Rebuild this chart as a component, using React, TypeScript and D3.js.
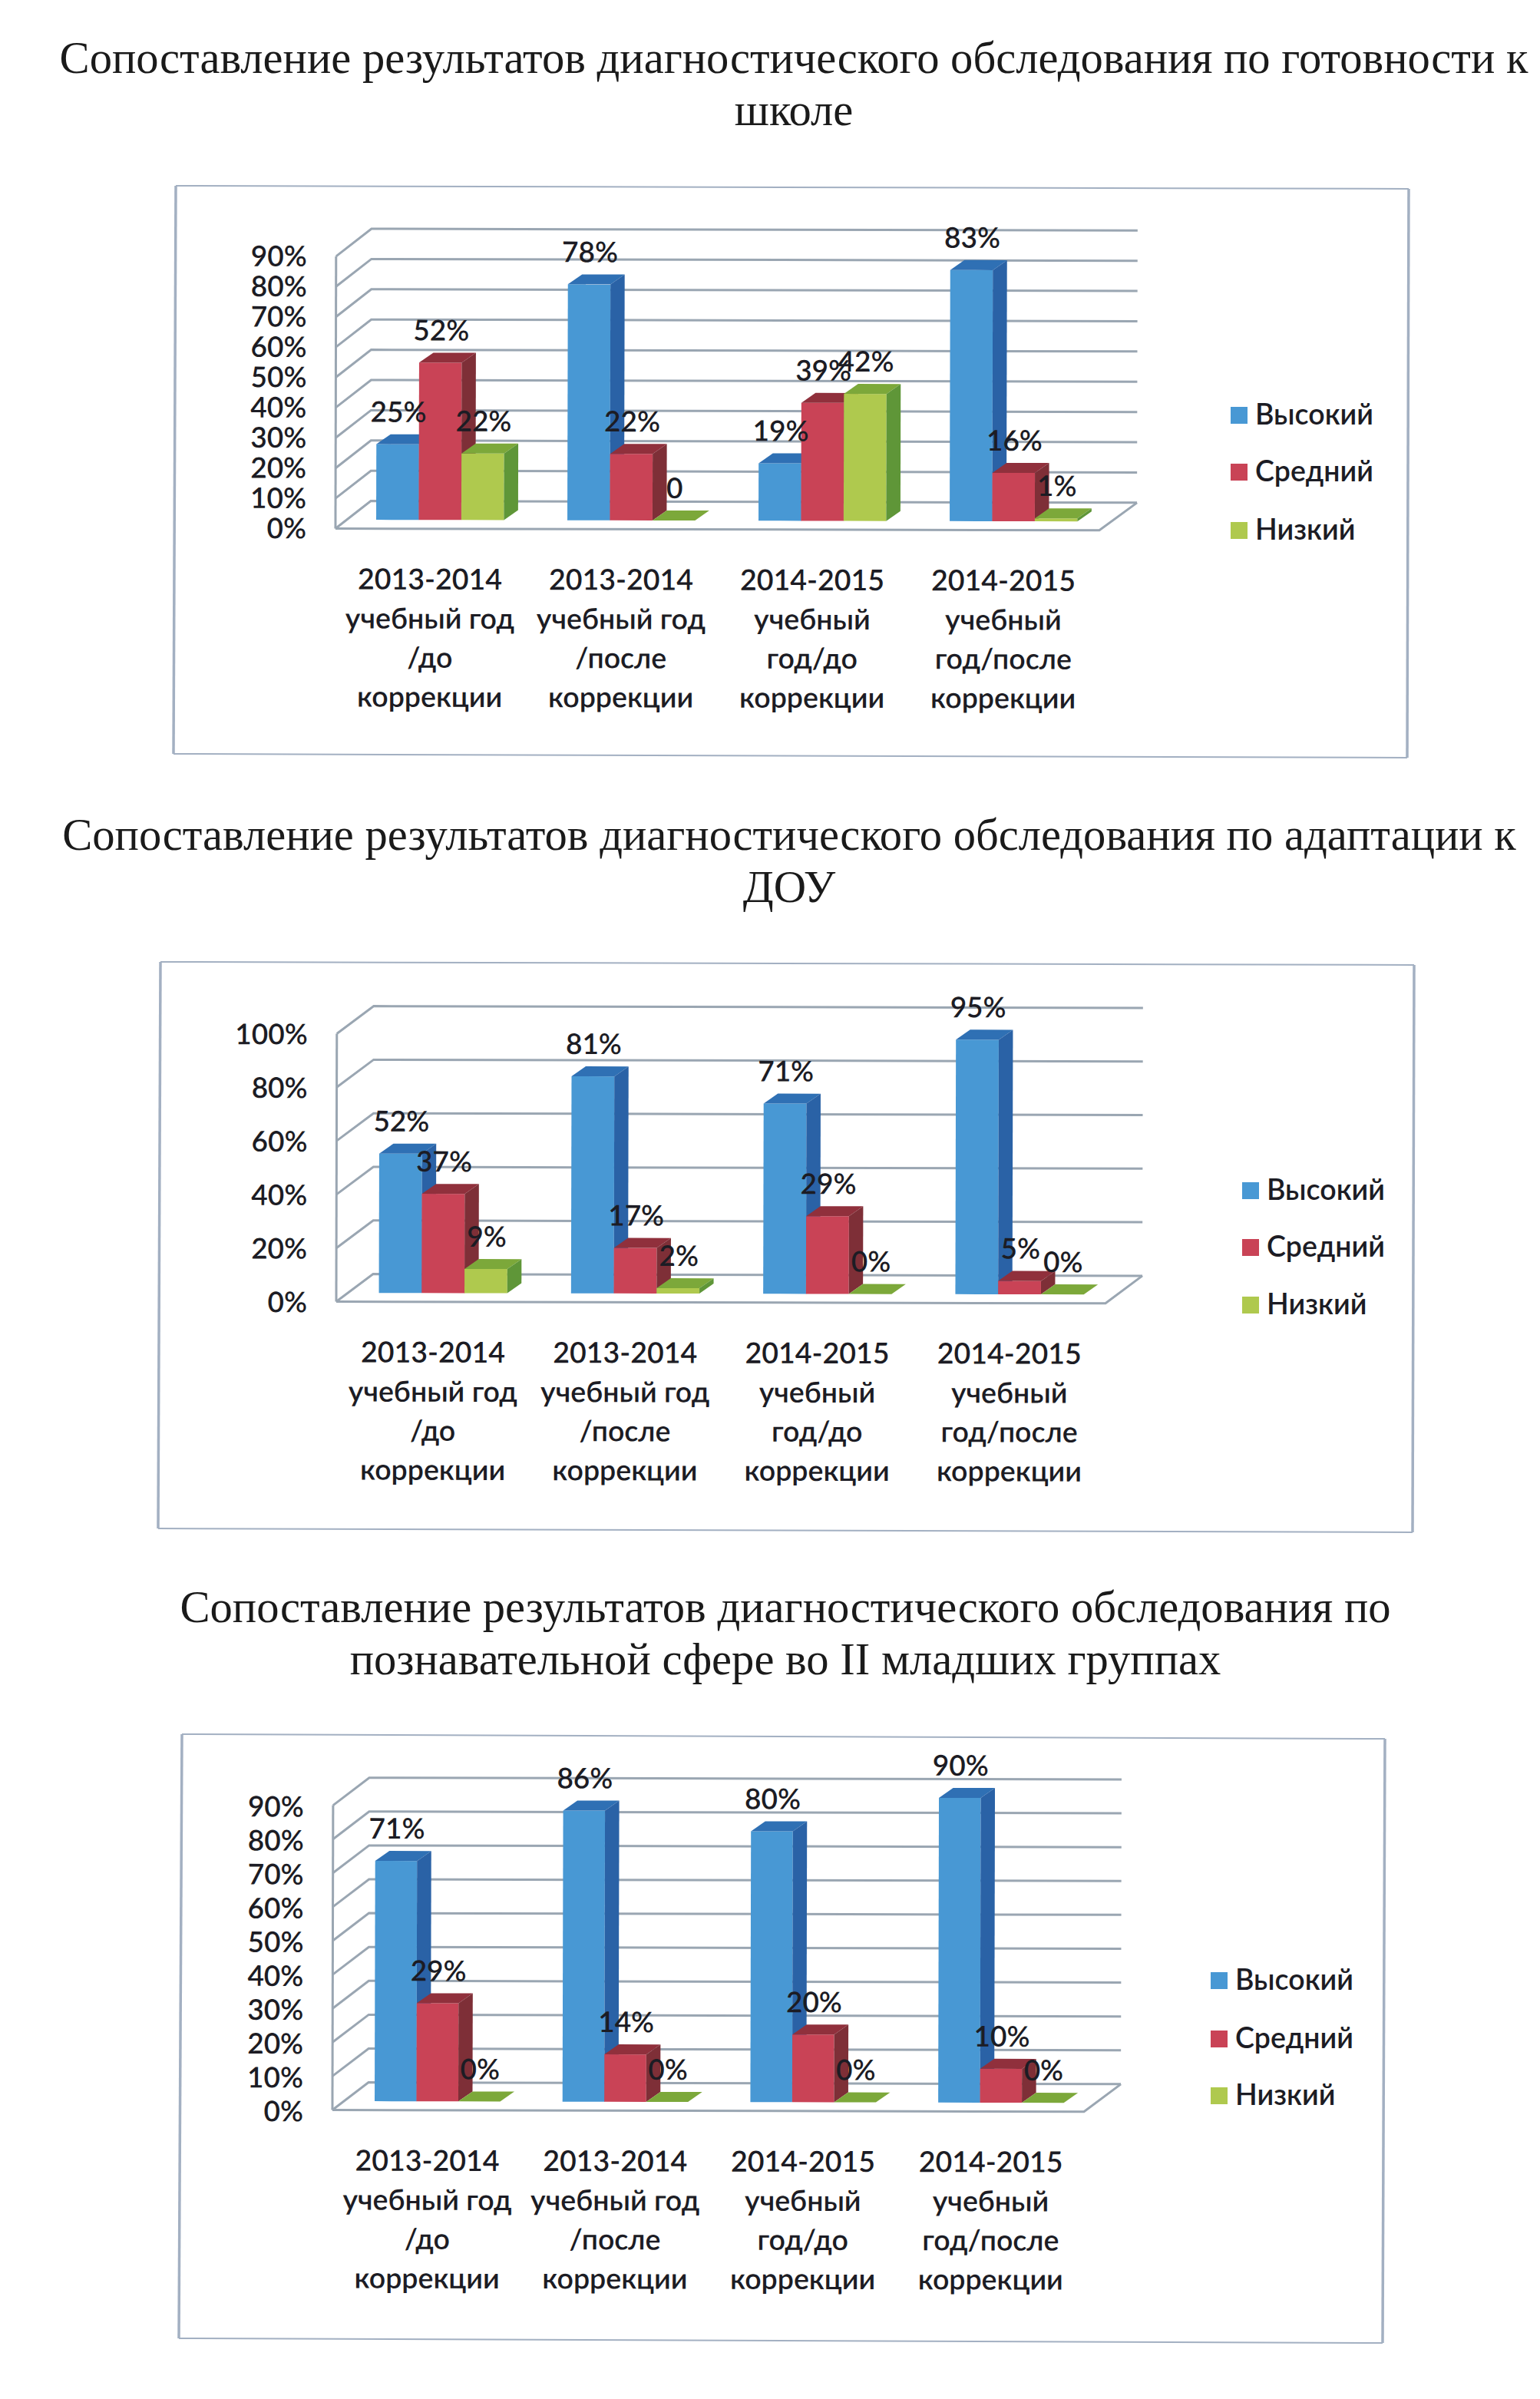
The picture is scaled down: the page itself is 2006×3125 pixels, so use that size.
import * as d3 from "d3";

const seriesNames = ["Высокий", "Средний", "Низкий"];
const categories = [
  ["2013-2014", "учебный год", "/до", "коррекции"],
  ["2013-2014", "учебный год", "/после", "коррекции"],
  ["2014-2015", "учебный", "год/до", "коррекции"],
  ["2014-2015", "учебный", "год/после", "коррекции"],
];

// значения по группам: высокий, средний, низкий
const readinessValues = [
  [25, 52, 22],
  [78, 22, 0],
  [19, 39, 42],
  [83, 16, 1],
];
const readinessLabels = [
  ["25%", "52%", "22%"],
  ["78%", "22%", "0"],
  ["19%", "39%", "42%"],
  ["83%", "16%", "1%"],
];
const readinessTicks = [0, 10, 20, 30, 40, 50, 60, 70, 80, 90];

const adaptationValues = [
  [52, 37, 9],
  [81, 17, 2],
  [71, 29, 0],
  [95, 5, 0],
];
const adaptationLabels = [
  ["52%", "37%", "9%"],
  ["81%", "17%", "2%"],
  ["71%", "29%", "0%"],
  ["95%", "5%", "0%"],
];
const adaptationTicks = [0, 20, 40, 60, 80, 100];

const cognitiveValues = [
  [71, 29, 0],
  [86, 14, 0],
  [80, 20, 0],
  [90, 10, 0],
];
const cognitiveLabels = [
  ["71%", "29%", "0%"],
  ["86%", "14%", "0%"],
  ["80%", "20%", "0%"],
  ["90%", "10%", "0%"],
];
const cognitiveTicks = [0, 10, 20, 30, 40, 50, 60, 70, 80, 90];

const faces = [
  { front: "#4898d4", top: "#2f70b4", side: "#2a62a6" },
  { front: "#c94356", top: "#90303c", side: "#7e2f37" },
  { front: "#afc94e", top: "#7ca83a", side: "#5f9638" },
];
const GRID = "#9aa6b2";
const FRAME = "#a3b0c2";
const INK = "#1c1c24";
const SANS = "Lato, sans-serif";
const SERIF = "'Liberation Serif', serif";

interface Chart3DProps {
  values: number[][];
  labels: string[][];
  ticks: number[];
  frame: [number, number][];
  x0: number;
  step: number;
  baseline: number;
  perPercent: number;
  frontX: [number, number];
  backX: [number, number];
  tickDy: number;
  legendX: number;
  legendY: number[];
}

function Chart3D(props: Chart3DProps) {
  const { values, labels, ticks, frame, x0, step, baseline, perPercent, frontX, backX, tickDy, legendX, legendY } = props;
  const dx = 18.5;
  const dy = 13;
  const frontOff = 11.5;
  const backOff = 24.5;

  const maxTick = d3.max(ticks)!;
  const y = d3.scaleLinear().domain([0, maxTick]).range([baseline, baseline - perPercent * maxTick]);
  const x = d3
    .scaleBand<number>()
    .domain(d3.range(categories.length))
    .range([x0, x0 + step * categories.length])
    .paddingInner(0.332)
    .paddingOuter(0.166);
  const inner = d3.scaleBand<number>().domain(d3.range(seriesNames.length)).range([0, x.bandwidth()]);
  const line = d3.line();

  return (
    <g>
      {/* рамка: вертикальные стороны на скане толще */}
      <path d={line([frame[0], frame[1]])!} fill="none" stroke={FRAME} strokeWidth={2} />
      <path d={line([frame[2], frame[3]])!} fill="none" stroke={FRAME} strokeWidth={2} />
      <path d={line([frame[1], frame[2]])!} fill="none" stroke={FRAME} strokeWidth={3.5} />
      <path d={line([frame[3], frame[0]])!} fill="none" stroke={FRAME} strokeWidth={3.5} />

      {/* легенда */}
      {seriesNames.map((name, s) => (
        <g key={name}>
          <rect x={legendX} y={legendY[s] - 11} width={22} height={22} fill={faces[s].front} />
          <text x={legendX + 32} y={legendY[s] + 12} fontFamily={SANS} fontSize={37.5} fontWeight={600} fill={INK}>
            {name}
          </text>
        </g>
      ))}

      {/* лёгкий перекос скана */}
      <g transform={`rotate(0.13 ${frontX[0]} ${baseline})`}>
        {/* стенка и сетка */}
        <line x1={frontX[0]} x2={frontX[0]} y1={y(0) + frontOff} y2={y(maxTick) + frontOff} stroke={GRID} strokeWidth={3} />
        {ticks.map((t) => (
          <path
            key={t}
            d={
              line([
                [frontX[0], y(t) + frontOff],
                [backX[0], y(t) - backOff],
                [backX[1], y(t) - backOff],
              ])!
            }
            fill="none"
            stroke={GRID}
            strokeWidth={3}
          />
        ))}
        <path
          d={
            line([
              [frontX[0], y(0) + frontOff],
              [frontX[1], y(0) + frontOff],
              [backX[1], y(0) - backOff],
            ])!
          }
          fill="none"
          stroke={GRID}
          strokeWidth={3}
        />

        {ticks.map((t) => (
          <text
            key={t}
            x={frontX[0] - 38}
            y={y(t) + frontOff + tickDy}
            textAnchor="end"
            fontFamily={SANS}
            fontSize={37}
            fontWeight={600}
            fill={INK}
          >
            {t}%
          </text>
        ))}

        {/* столбцы */}
        {values.map((group, g) =>
          group.map((v, s) => {
            const left = x(g)! + inner(s)!;
            const w = inner.bandwidth();
            const top = y(v);
            return (
              <g key={`${g}-${s}`}>
                <rect x={left} y={top} width={w} height={baseline - top} fill={faces[s].front} />
                <path
                  d={
                    line([
                      [left, top],
                      [left + dx, top - dy],
                      [left + w + dx, top - dy],
                      [left + w, top],
                    ])! + "Z"
                  }
                  fill={faces[s].top}
                />
                <path
                  d={
                    line([
                      [left + w, top],
                      [left + w + dx, top - dy],
                      [left + w + dx, baseline - dy],
                      [left + w, baseline],
                    ])! + "Z"
                  }
                  fill={faces[s].side}
                />
              </g>
            );
          })
        )}

        {/* подписи значений */}
        {values.map((group, g) =>
          group.map((v, s) => (
            <text
              key={`${g}-${s}`}
              x={x(g)! + inner(s)! + inner.bandwidth() / 2 + 1}
              y={y(v) - 29}
              textAnchor="middle"
              fontFamily={SANS}
              fontSize={37}
              fontWeight={600}
              fill={INK}
            >
              {labels[g][s]}
            </text>
          ))
        )}

        {/* подписи категорий */}
        {categories.map((lines, g) =>
          lines.map((txt, i) => (
            <text
              key={`${g}-${i}`}
              x={x(g)! + x.bandwidth() / 2 - 13}
              y={y(0) + frontOff + 79 + i * 51}
              textAnchor="middle"
              fontFamily={SANS}
              fontSize={37.5}
              fontWeight={600}
              fill={INK}
            >
              {txt}
            </text>
          ))
        )}
      </g>
    </g>
  );
}

function Title({ lines, cx, y }: { lines: string[]; cx: number; y: number }) {
  return (
    <g>
      {lines.map((txt, i) => (
        <text key={i} x={cx} y={y + i * 68} textAnchor="middle" fontFamily={SERIF} fontSize={58.6} fill="#1a1a1a">
          {txt}
        </text>
      ))}
    </g>
  );
}

export default function App() {
  return (
    <svg width={2006} height={3125} style={{ position: "absolute", left: 0, top: 0, background: "#fff" }}>
      <Title
        lines={["Сопоставление результатов диагностического обследования по готовности к", "школе"]}
        cx={1034}
        y={95}
      />
      <Chart3D
        values={readinessValues}
        labels={readinessLabels}
        ticks={readinessTicks}
        frame={[
          [229, 242],
          [1835, 246],
          [1833, 987],
          [226, 982],
        ]}
        x0={448.7}
        step={249}
        baseline={677}
        perPercent={3.94}
        frontX={[437, 1432]}
        backX={[483, 1481]}
        tickDy={13}
        legendX={1603}
        legendY={[541, 615, 691]}
      />

      <Title
        lines={["Сопоставление результатов диагностического обследования по адаптации к", "ДОУ"]}
        cx={1028}
        y={1107}
      />
      <Chart3D
        values={adaptationValues}
        labels={adaptationLabels}
        ticks={adaptationTicks}
        frame={[
          [209, 1253],
          [1842, 1257],
          [1840, 1996],
          [206, 1991],
        ]}
        x0={452}
        step={250.3}
        baseline={1684}
        perPercent={3.49}
        frontX={[438, 1440]}
        backX={[486, 1488]}
        tickDy={14}
        legendX={1618}
        legendY={[1551, 1625, 1700]}
      />

      <Title
        lines={["Сопоставление результатов диагностического обследования по", "познавательной сфере во II младших группах"]}
        cx={1023}
        y={2113}
      />
      <Chart3D
        values={cognitiveValues}
        labels={cognitiveLabels}
        ticks={cognitiveTicks}
        frame={[
          [237, 2259],
          [1804, 2265],
          [1801, 3052],
          [233, 3046],
        ]}
        x0={447.4}
        step={244.7}
        baseline={2737}
        perPercent={4.41}
        frontX={[433, 1412]}
        backX={[480, 1460]}
        tickDy={15}
        legendX={1577}
        legendY={[2580, 2656, 2730]}
      />
    </svg>
  );
}
